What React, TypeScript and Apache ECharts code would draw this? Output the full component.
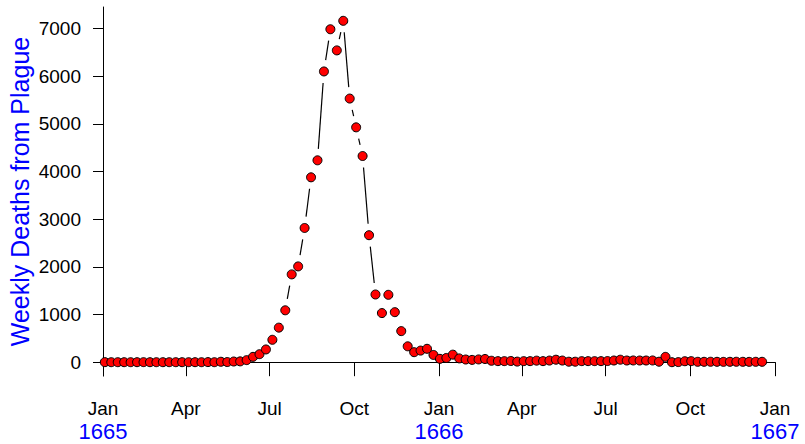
import React, { useEffect, useRef } from "react";
import * as echarts from "echarts";

// Week-ending dates start on 3 Jan 1665 and follow weekly
const firstWeekEnding = "1665-01-03";
const daysPerWeek = 7;

// Weekly deaths from plague, London Bills of Mortality
const weeklyDeaths1665 = [
  1, 0, 0, 0, 0, 0, 1, 0, 0, 0, 0, 0, 0, 0, 0, 0, 2, 0, 9, 3, 14, 17,
  43, 112, 168, 267, 470, 725, 1089, 1843, 2010, 2817, 3880, 4237, 6102, 6988,
  6544, 7165, 5533, 4929, 4327, 2665, 1421, 1031, 1414, 1050, 652, 333, 210, 243, 281,
];
const weeklyDeaths1666 = [
  152, 70, 89, 158, 79, 56, 48, 58, 67, 30, 22, 22, 25, 12, 22, 22, 32, 22, 34, 52,
  34, 10, 10, 22, 22, 22, 22, 24, 35, 52, 35, 36, 35, 35, 36, 10, 112, 0, 2, 20,
  22, 8, 8, 9, 8, 7, 8, 9, 8, 7, 8, 8,
];

const xTickDates = [
  "1665-01-01", "1665-04-01", "1665-07-01", "1665-10-01",
  "1666-01-01", "1666-04-01", "1666-07-01", "1666-10-01", "1667-01-01",
];
const monthNames = ["Jan", "Feb", "Mar", "Apr", "May", "Jun", "Jul", "Aug", "Sep", "Oct", "Nov", "Dec"];
const yTicks = [0, 1000, 2000, 3000, 4000, 5000, 6000, 7000];
const yTitle = "Weekly Deaths from Plague";

const ORIGIN = Date.UTC(1665, 0, 1);
const DAY = 86400000;
function parse(s: string) {
  const [y, m, d] = s.split("-").map(Number);
  return { y, m, d, t: Date.UTC(y, m - 1, d) };
}
function dayOf(s: string) {
  return Math.round((parse(s).t - ORIGIN) / DAY);
}

const FONT = "'Liberation Sans', Arial, Helvetica, sans-serif";

export default function App() {
  const ref = useRef<HTMLDivElement>(null);
  useEffect(() => {
    if (!ref.current) return;
    const chart = echarts.init(ref.current, null, { renderer: "svg" });

    const deaths = [...weeklyDeaths1665, ...weeklyDeaths1666];
    const start = dayOf(firstWeekEnding);
    const points = deaths.map((v, i) => [start + i * daysPerWeek, v]);
    const segs = points.slice(0, -1).map((p, i) => [p[0], p[1], points[i + 1][0], points[i + 1][1]]);

    const tickDays = xTickDates.map(dayOf);
    const labelFor = (val: number) => {
      const idx = tickDays.findIndex((d) => Math.abs(d - val) < 0.5);
      if (idx < 0) return "";
      const p = parse(xTickDates[idx]);
      const mon = monthNames[p.m - 1];
      return p.m === 1 ? `${mon}\n{yr|${p.y}}` : mon;
    };

    const GAP = 11.5;

    chart.setOption({
      animation: false,
      backgroundColor: "#ffffff",
      grid: {
        left: 103,
        right: 30,
        top: 7,
        bottom: 68,
        containLabel: false,
        outerBoundsMode: "none",
      },
      xAxis: {
        type: "value",
        min: tickDays[0],
        max: tickDays[tickDays.length - 1],
        splitLine: { show: false },
        axisLine: { show: true, lineStyle: { color: "#000", width: 1 } },
        axisTick: {
          show: true,
          length: 14,
          lineStyle: { color: "#000", width: 1 },
          customValues: tickDays,
        },
        axisLabel: {
          show: true,
          customValues: tickDays,
          formatter: (v: number) => labelFor(v),
          margin: 23,
          color: "#000",
          fontSize: 19,
          lineHeight: 19,
          fontFamily: FONT,
          hideOverlap: false,
          showMinLabel: true,
          showMaxLabel: true,
          rich: {
            yr: { fontSize: 22, lineHeight: 27.2, color: "#0000ff", fontFamily: FONT },
          },
        },
      },
      yAxis: {
        type: "value",
        min: -290,
        max: 7455,
        splitLine: { show: false },
        axisLine: { show: true, lineStyle: { color: "#000", width: 1 } },
        axisTick: { show: true, length: 10, lineStyle: { color: "#000", width: 1 }, customValues: yTicks },
        axisLabel: {
          show: true,
          customValues: yTicks,
          formatter: (v: number) => String(v),
          margin: 22,
          color: "#000",
          fontSize: 19,
          fontFamily: FONT,
          showMinLabel: true,
          showMaxLabel: true,
        },
        name: yTitle,
        nameLocation: "middle",
        nameGap: 71,
        nameMoveOverlap: false,
        nameTextStyle: { color: "#0000ff", fontSize: 25, fontFamily: FONT },
      },
      series: [
        {
          type: "custom",
          data: segs,
          encode: { x: [0, 2], y: [1, 3] },
          silent: true,
          renderItem: (params: any, api: any) => {
            const p1 = api.coord([api.value(0), api.value(1)]);
            const p2 = api.coord([api.value(2), api.value(3)]);
            const dx = p2[0] - p1[0];
            const dy = p2[1] - p1[1];
            const len = Math.sqrt(dx * dx + dy * dy);
            if (len <= 2 * GAP) return null;
            const ux = dx / len;
            const uy = dy / len;
            return {
              type: "line",
              shape: {
                x1: p1[0] + ux * GAP,
                y1: p1[1] + uy * GAP,
                x2: p2[0] - ux * GAP,
                y2: p2[1] - uy * GAP,
              },
              style: { stroke: "#000", lineWidth: 1.2 },
            };
          },
          z: 1,
        },
        {
          type: "scatter",
          data: points,
          symbol: "circle",
          symbolSize: 9,
          itemStyle: { color: "#ff0000", borderColor: "#000", borderWidth: 1, opacity: 1 },
          z: 2,
        },
      ],
    });
    return () => chart.dispose();
  }, []);
  return (
    <div
      ref={ref}
      style={{ position: "fixed", left: 0, top: 0, width: 805, height: 444, background: "#fff" }}
    />
  );
}
